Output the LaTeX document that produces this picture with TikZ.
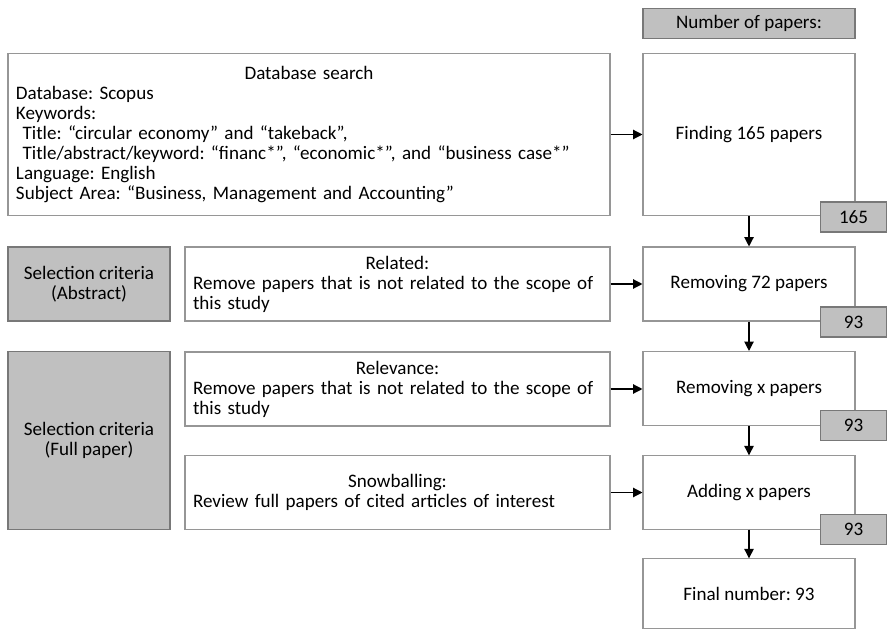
\documentclass[tikz,border=0pt]{standalone}
\usepackage{fontspec}
\setmainfont{Carlito}
\frenchspacing
\usetikzlibrary{arrows.meta,positioning}
\definecolor{BoxLine}{RGB}{150,150,150}
\definecolor{GreyFill}{RGB}{192,192,192}
\tikzset{
  whitebox/.style={draw=BoxLine,fill=white,line width=0.8pt,inner sep=0pt},
  greybox/.style={draw=BoxLine!80!black,fill=GreyFill,line width=0.8pt,inner sep=0pt,align=center},
  txtbox/.style={whitebox,inner xsep=6pt,align=left},
  stagebox/.style={whitebox,minimum width=159pt,align=center},
  countbox/.style={greybox,minimum width=50pt,minimum height=22.5pt},
  flow/.style={-{Triangle[length=7pt,width=7pt]},line width=0.9pt},
}
\begin{document}
\begin{tikzpicture}[x=0.75pt,y=-0.75pt,
    every node/.style={font=\fontsize{14.3}{15}\selectfont}]
  \useasboundingbox (0,0) rectangle (887,630);
  % right column
  \node[greybox,minimum width=159pt,minimum height=22pt] (head) at (749,23.5) {Number of papers:};
  \node[stagebox,minimum height=122pt] (find) at (749,134.5) {Finding 165 papers};
  \node[stagebox,minimum height=55.5pt] (rem72) at (749,284) {Removing 72 papers};
  \node[stagebox,minimum height=55.5pt] (remx) at (749,388.5) {Removing x papers};
  \node[stagebox,minimum height=55pt] (add) at (749,492.5) {Adding x papers};
  \node[stagebox,minimum height=52pt] (fin) at (749,593.5) {Final number: 93};
  \node[countbox] (c1) at (853.5,217) {165};
  \node[countbox] (c2) at (853.5,322) {93};
  \node[countbox] (c3) at (853.5,425.5) {93};
  \node[countbox] (c4) at (853.5,529.5) {93};
  % left column
  \node[greybox,minimum width=121.5pt,minimum height=55.5pt] (selA) at (89,284)
    {Selection criteria\\(Abstract)};
  \node[greybox,minimum width=121.5pt,minimum height=133pt] (selF) at (89,440.5)
    {Selection criteria\\(Full paper)};
  % middle column
  \node[txtbox,text width=439.5pt,minimum height=122pt] (db) at (309,134.5)
    {\makebox[\linewidth]{Database search}\\
     Database: Scopus\\
     Keywords:\\
     \hspace*{5pt}Title: “circular economy” and “takeback”,\\
     \hspace*{5pt}Title/abstract/keyword: “financ*”, “economic*”, and “business case*”\\
     Language: English\\
     Subject Area: “Business, Management and Accounting”};
  \node[txtbox,text width=306.75pt,minimum height=55.5pt] (rel) at (397.5,284)
    {\makebox[\linewidth]{Related:}\\
     Remove papers that is not related to the scope of\\
     this study};
  \node[txtbox,text width=306.75pt,minimum height=55.5pt] (relv) at (397.5,389)
    {\makebox[\linewidth]{Relevance:}\\
     Remove papers that is not related to the scope of\\
     this study};
  \node[txtbox,text width=306.75pt,minimum height=55pt] (snow) at (397.5,492.5)
    {\makebox[\linewidth]{Snowballing:}\\
     Review full papers of cited articles of interest};
  % arrows
  \draw[flow] (db) -- (find);
  \draw[flow] (rel) -- (rem72);
  \draw[flow] (relv.east) -- (relv.east -| remx.west);
  \draw[flow] (snow) -- (add);
  \draw[flow] (find) -- (rem72);
  \draw[flow] (rem72) -- (remx);
  \draw[flow] (remx) -- (add);
  \draw[flow] (add) -- (fin);
\end{tikzpicture}
\end{document}
